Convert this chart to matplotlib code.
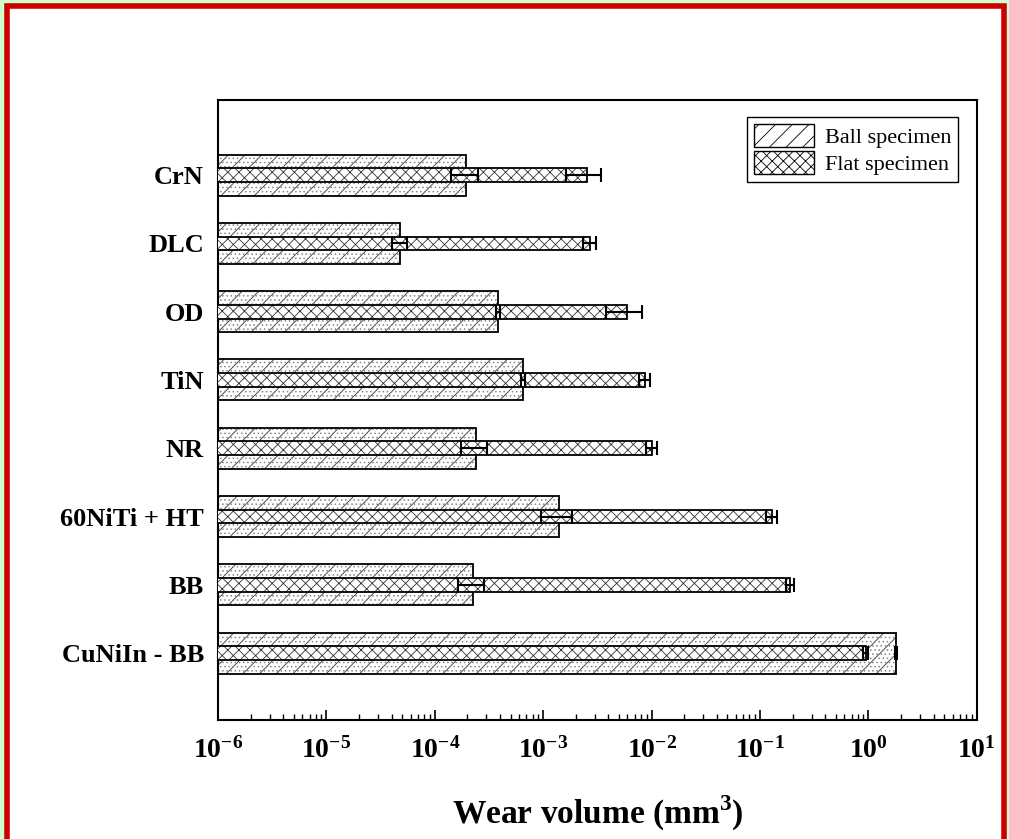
import matplotlib.pyplot as plt
import matplotlib.patches as mpatches
import numpy as np

plt.rcParams['font.family'] = ['Liberation Serif', 'DejaVu Serif']
plt.rcParams['mathtext.fontset'] = 'custom'
plt.rcParams['mathtext.rm'] = 'Liberation Serif'
plt.rcParams['mathtext.bf'] = 'Liberation Serif:bold'
plt.rcParams['hatch.linewidth'] = 0.6

# data, bottom to top
materials = ['CuNiIn - BB', 'BB', '60NiTi + HT', 'NR', 'TiN', 'OD', 'DLC', 'CrN']
ball = [1.8, 2.25e-4, 1.4e-3, 2.4e-4, 6.5e-4, 3.83e-4, 4.8e-5, 1.95e-4]
ball_err = [0.05, 6e-5, 4.5e-4, 6.5e-5, 3e-5, 1.5e-5, 8e-6, 5.5e-5]
flat = [0.95, 0.19, 0.129, 1.0e-2, 8.7e-3, 6.0e-3, 2.7e-3, 2.54e-3]
flat_err = [0.05, 0.017, 0.016, 1.2e-3, 1.0e-3, 2.2e-3, 3.5e-4, 9e-4]
xticks = [1e-6, 1e-5, 1e-4, 1e-3, 1e-2, 1e-1, 1e0, 1e1]
xticklabels = ['$\\mathbf{10^{-6}}$', '$\\mathbf{10^{-5}}$', '$\\mathbf{10^{-4}}$',
               '$\\mathbf{10^{-3}}$', '$\\mathbf{10^{-2}}$', '$\\mathbf{10^{-1}}$',
               '$\\mathbf{10^{0}}$', '$\\mathbf{10^{1}}$']

fig = plt.figure(figsize=(10.09, 8.39), dpi=100)
fig.patch.set_facecolor('#ccffcc')
# white panel with red frame
fig.patches.append(mpatches.Rectangle((0.007, -0.01), 0.988, 1.0 - 0.007 + 0.01,
                                      transform=fig.transFigure, facecolor='white',
                                      edgecolor='#cc0000', linewidth=4, zorder=-5))

ax = fig.add_axes([0.216, 0.1418, 0.752, 0.739])
ax.set_xscale('log')
y = np.arange(len(materials))

# ball specimen: hatch layer, fine dots, outline
ax.barh(y, ball, height=0.6, left=1e-7, color='white', edgecolor='#333333',
        hatch='//', linewidth=0, zorder=2)
ax.barh(y, ball, height=0.6, left=1e-7, fill=False, edgecolor='#888888',
        hatch='....', linewidth=0, zorder=2)
ax.barh(y, ball, height=0.6, left=1e-7, fill=False, edgecolor='black',
        linewidth=1.3, zorder=2)
ax.errorbar(ball, y, xerr=ball_err, fmt='none', ecolor='black', elinewidth=1.5,
            capsize=5, capthick=1.5, zorder=4)

# flat specimen
ax.barh(y, flat, height=0.2, left=1e-7, color='white', edgecolor='#333333',
        hatch='xxx', linewidth=0, zorder=3)
ax.barh(y, flat, height=0.2, left=1e-7, fill=False, edgecolor='black',
        linewidth=1.3, zorder=3)
ax.errorbar(flat, y, xerr=flat_err, fmt='none', ecolor='black', elinewidth=1.5,
            capsize=5, capthick=1.5, zorder=4)

ax.set_xlim(1e-6, 1e1)
ax.set_ylim(-0.98, 8.1)
ax.set_xticks(xticks)
ax.set_xticklabels(xticklabels)
ax.set_yticks(y)
ax.set_yticklabels(materials, fontsize=19, fontweight='bold')
ax.tick_params(axis='y', length=0, pad=10)
ax.tick_params(axis='x', which='major', direction='in', length=7, width=1.2,
               labelsize=20, pad=12, top=False)
ax.tick_params(axis='x', which='minor', direction='in', length=4, width=1, top=False)
ax.set_xlabel('Wear volume (mm$^\\mathbf{3}$)', fontsize=24, fontweight='bold', labelpad=22)
for s in ax.spines.values():
    s.set_linewidth(1.5)

handles = [mpatches.Patch(facecolor='white', edgecolor='black', hatch='//'),
           mpatches.Patch(facecolor='white', edgecolor='black', hatch='xxx')]
ax.legend(handles, ['Ball specimen', 'Flat specimen'], loc='upper right',
          bbox_to_anchor=(0.99, 0.99), fontsize=16, fancybox=False,
          edgecolor='black', framealpha=1, handlelength=2.7, handleheight=1.2,
          borderpad=0.3, labelspacing=0.15, handletextpad=0.5)

fig.savefig('out.png', dpi=100, facecolor=fig.get_facecolor())
